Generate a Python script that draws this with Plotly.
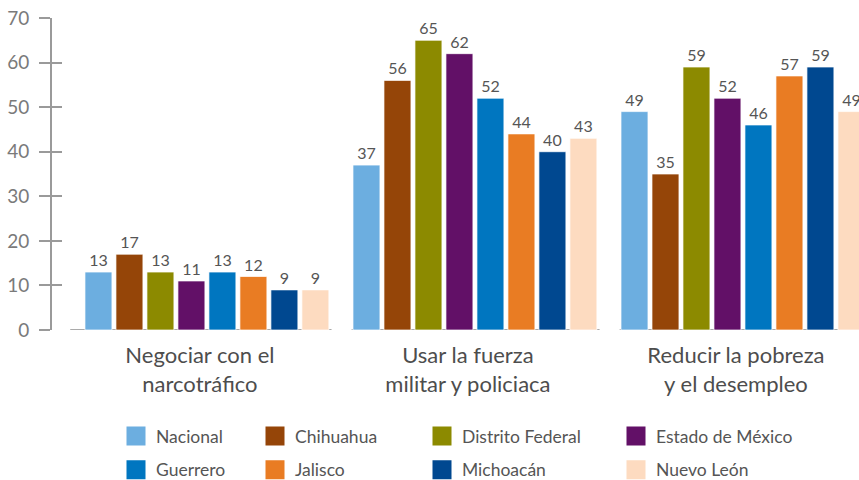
import plotly.graph_objects as go

categories = ["Negociar con el<br>narcotráfico",
              "Usar la fuerza<br>militar y policiaca",
              "Reducir la pobreza<br>y el desempleo"]

series_names = ["Nacional", "Chihuahua", "Distrito Federal", "Estado de México",
                "Guerrero", "Jalisco", "Michoacán", "Nuevo León"]

nacional = [13, 37, 49]
chihuahua = [17, 56, 35]
distrito_federal = [13, 65, 59]
estado_mexico = [11, 62, 52]
guerrero = [13, 52, 46]
jalisco = [12, 44, 57]
michoacan = [9, 40, 59]
nuevo_leon = [9, 43, 49]

series_values = [nacional, chihuahua, distrito_federal, estado_mexico,
                 guerrero, jalisco, michoacan, nuevo_leon]

colors = ["#6CAEE0", "#954508", "#8C8A00", "#621067",
          "#0076C0", "#E97C23", "#004890", "#FDDBC0"]

y_ticks = [0, 10, 20, 30, 40, 50, 60, 70]

FONT = "Lato, 'Open Sans', sans-serif"
x_idx = list(range(len(categories)))

fig = go.Figure()
for name, vals, col in zip(series_names, series_values, colors):
    fig.add_trace(go.Bar(
        x=x_idx, y=vals, name=name,
        marker=dict(color=col, line=dict(color="rgba(255,255,255,0.7)", width=1)),
        text=[str(v) for v in vals], textposition="outside",
        textfont=dict(family=FONT, size=16, color="#555555"),
        cliponaxis=False, showlegend=False,
    ))

# legend proxies arranged in four columns
legend_cols = ["legend", "legend2", "legend3", "legend4"]
for i, (name, col) in enumerate(zip(series_names, colors)):
    fig.add_trace(go.Scatter(
        x=[None], y=[None], mode="markers", name=name,
        marker=dict(symbol="square", size=16, color=col, line=dict(color=col, width=3)),
        legend=legend_cols[i % 4], legendgroup=name, showlegend=True, hoverinfo="skip",
    ))

# baseline segments under each group
for i in x_idx:
    x0 = i - 0.46 - (0.05 if i == 0 else 0)
    fig.add_shape(type="line", xref="x", yref="y", x0=x0, x1=i + 0.465, y0=0, y1=0,
                  line=dict(color="#AAAAAA", width=2), layer="below")

L, W = 52, 807
T, H = 18, 312
def lx(px):
    return (px - L) / W
def ly(py):
    return (T + H - py) / H

leg_common = dict(orientation="v", xanchor="left", yanchor="top", tracegroupgap=8,
                  font=dict(family=FONT, size=17.5, color="#555555"),
                  bgcolor="rgba(0,0,0,0)", borderwidth=0)

AX = "#9A9A9A"
fig.update_layout(
    width=859, height=480,
    margin=dict(l=L, r=0, t=T, b=480 - T - H, autoexpand=False),
    paper_bgcolor="white", plot_bgcolor="white",
    barmode="group", bargap=0.075, bargroupgap=0.13,
    xaxis=dict(range=[-0.578, 2.433], tickmode="array", tickvals=x_idx, ticktext=categories,
               showgrid=False, zeroline=False, showline=False, ticks="",
               tickfont=dict(family=FONT, size=22, color="#4D4D4D"),
               ticklabelstandoff=10, ticklabelshift=-7),
    yaxis=dict(range=[0, 70], tickvals=y_ticks, showgrid=False, zeroline=False,
               showline=True, linecolor=AX, linewidth=2, layer="above traces",
               ticks="outside", ticklen=11, tickwidth=2, tickcolor=AX,
               tickfont=dict(family=FONT, size=19, color="#7A7A7A"), ticklabelstandoff=6),
    yaxis2=dict(range=[0, 70], tickvals=y_ticks, overlaying="y", side="left",
                showgrid=False, zeroline=False, showline=True, linecolor=AX,
                linewidth=2, showticklabels=False,
                ticks="inside", ticklen=10, tickwidth=2, tickcolor=AX),
    legend=dict(x=lx(116), y=ly(418), **leg_common),
    legend2=dict(x=lx(255), y=ly(418), **leg_common),
    legend3=dict(x=lx(422), y=ly(418), **leg_common),
    legend4=dict(x=lx(616), y=ly(418), **leg_common),
    showlegend=True,
)
# dummy trace to activate yaxis2 ticks
fig.add_trace(go.Scatter(x=[None], y=[None], yaxis="y2", showlegend=False, hoverinfo="skip"))

fig.write_html("out.html", config={"displayModeBar": False},
               post_script="document.body.style.margin='0px';document.body.style.overflow='hidden';")
